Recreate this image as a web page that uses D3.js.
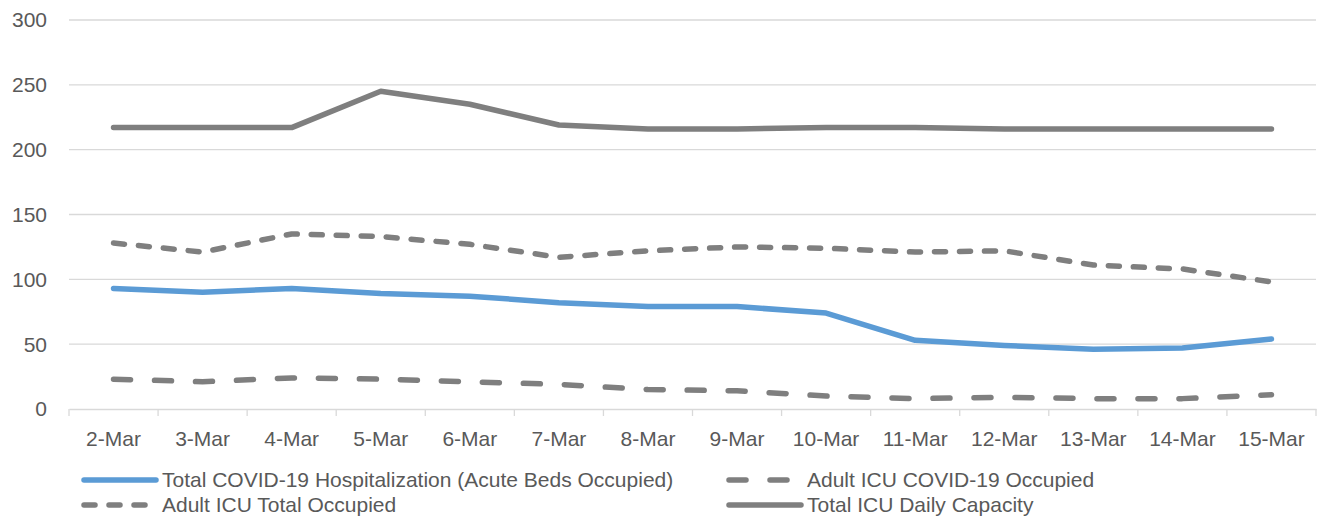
<!DOCTYPE html>
<html>
<head>
<meta charset="utf-8">
<script src="https://cdn.jsdelivr.net/npm/d3@7"></script>
<style>
  body { margin: 0; background: #fff; }
  text { font-family: "Liberation Sans", Arial, sans-serif; fill: #595959; }
</style>
</head>
<body>
<script>
// chart data
var days = ['2-Mar','3-Mar','4-Mar','5-Mar','6-Mar','7-Mar','8-Mar','9-Mar','10-Mar','11-Mar','12-Mar','13-Mar','14-Mar','15-Mar'];
var hospitalized = [93, 90, 93, 89, 87, 82, 79, 79, 74, 53, 49, 46, 47, 54];
var icuCovid = [23, 21, 24, 23, 21, 19, 15, 14, 10, 8, 9, 8, 8, 11];
var icuTotal = [128, 121, 135, 133, 127, 117, 122, 125, 124, 121, 122, 111, 108, 98];
var icuCapacity = [217, 217, 217, 245, 235, 219, 216, 216, 217, 217, 216, 216, 216, 216];
var yTicks = [0, 50, 100, 150, 200, 250, 300];

var series = [
  { name: 'Total COVID-19 Hospitalization (Acute Beds Occupied)', values: hospitalized, color: '#5b9bd5', dash: null },
  { name: 'Adult ICU COVID-19 Occupied', values: icuCovid, color: '#7f7f7f', dash: '17,24' },
  { name: 'Adult ICU Total Occupied', values: icuTotal, color: '#7f7f7f', dash: '11,14' },
  { name: 'Total ICU Daily Capacity', values: icuCapacity, color: '#7f7f7f', dash: null }
];

var width = 1327, height = 516;
var plotLeft = 69, plotRight = 1316, plotTop = 20, plotBottom = 409;
var fontSize = '21px';

var svg = d3.select('body').append('svg')
            .attr('width', width)
            .attr('height', height);

var x = d3.scaleBand().domain(days).range([plotLeft, plotRight]);
var y = d3.scaleLinear().domain([0, 300]).range([plotBottom, plotTop]);

// gridlines
svg.append('g').selectAll('line')
   .data(yTicks.filter(function(d){ return d > 0; }))
   .enter().append('line')
   .attr('x1', plotLeft).attr('x2', plotRight)
   .attr('y1', function(d){ return y(d); })
   .attr('y2', function(d){ return y(d); })
   .attr('stroke', '#d9d9d9').attr('stroke-width', 1.3);

// y labels
svg.append('g').selectAll('text')
   .data(yTicks)
   .enter().append('text')
   .attr('x', 47)
   .attr('y', function(d){ return y(d); })
   .attr('dy', '0.35em')
   .attr('text-anchor', 'end')
   .style('font-size', fontSize)
   .text(function(d){ return d; });

// x axis
var xAxis = svg.append('g')
   .attr('transform', 'translate(0,' + plotBottom + ')')
   .call(d3.axisBottom(x).tickSize(0).tickPadding(22));
xAxis.select('.domain').attr('stroke', '#d9d9d9').attr('stroke-width', 1.3);
xAxis.selectAll('text').style('font-size', fontSize).attr('fill', '#595959');

// tick marks between categories
var bounds = days.map(function(d){ return x(d); }).concat([plotRight]);
svg.append('g').selectAll('line')
   .data(bounds)
   .enter().append('line')
   .attr('x1', function(d){ return d; }).attr('x2', function(d){ return d; })
   .attr('y1', plotBottom).attr('y2', plotBottom + 7)
   .attr('stroke', '#d9d9d9').attr('stroke-width', 1.3);

var line = d3.line()
   .x(function(d, i){ return x(days[i]) + x.bandwidth() / 2; })
   .y(function(d){ return y(d); });

series.forEach(function(s){
  svg.append('path')
     .attr('d', line(s.values))
     .attr('fill', 'none')
     .attr('stroke', s.color)
     .attr('stroke-width', 5.5)
     .attr('stroke-linecap', 'round')
     .attr('stroke-linejoin', 'round')
     .attr('stroke-dasharray', s.dash);
});

// legend
var legendPos = [[84, 480], [729, 480], [84, 505], [729, 505]];
series.forEach(function(s, i){
  var p = legendPos[i];
  svg.append('line')
     .attr('x1', p[0]).attr('x2', p[0] + 72)
     .attr('y1', p[1]).attr('y2', p[1])
     .attr('stroke', s.color)
     .attr('stroke-width', 5.5)
     .attr('stroke-linecap', 'round')
     .attr('stroke-dasharray', s.dash);
  svg.append('text')
     .attr('x', p[0] + 78)
     .attr('y', p[1])
     .attr('dy', '0.35em')
     .style('font-size', fontSize)
     .text(s.name);
});
</script>
</body>
</html>
